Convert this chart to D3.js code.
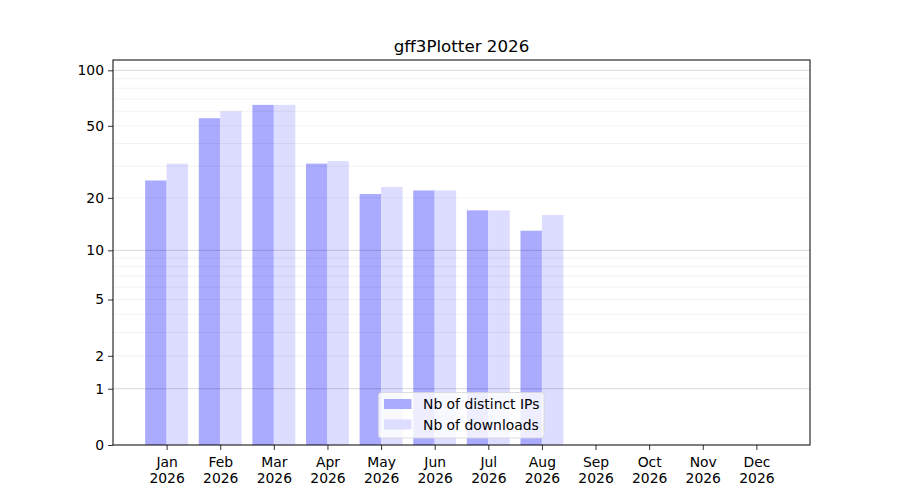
<!DOCTYPE html>
<html>
<head>
<meta charset="utf-8">
<script src="https://cdn.jsdelivr.net/npm/d3@7"></script>
<style>
  body { margin: 0; background: #fff; }
  text { font-family: "DejaVu Sans", sans-serif; }
</style>
</head>
<body>
<div id="graph"></div>
<script>
// data
let months = ["Jan", "Feb", "Mar", "Apr", "May", "Jun", "Jul", "Aug", "Sep", "Oct", "Nov", "Dec"];
let year = "2026";
let ips = [25, 55, 65, 31, 21, 22, 17, 13, 0, 0, 0, 0];
let downloads = [31, 60, 65, 32, 23, 22, 17, 16, 0, 0, 0, 0];
let yTicks = [0, 1, 2, 5, 10, 20, 50, 100];
let majorGrid = [1, 10, 100];
let minorGrid = [2, 3, 4, 5, 6, 7, 8, 9, 20, 30, 40, 50, 60, 70, 80, 90];
let seriesNames = ["Nb of distinct IPs", "Nb of downloads"];
let seriesColors = ["#aaaaff", "#ddddff"];

let width = 900, height = 500;
let margin = {top: 60, right: 90, bottom: 55, left: 113};
let plot_w = width - margin.left - margin.right;
let plot_h = height - margin.top - margin.bottom;

let svg = d3.select("#graph")
    .append("svg")
    .attr("width", width)
    .attr("height", height)
    .append("g")
    .attr("transform", `translate(${margin.left},${margin.top})`);

// x: month index, one empty slot on both sides
let x = d3.scaleLinear()
    .domain([-1, 12])
    .range([0, plot_w]);
let barW = x(0.4) - x(0);

// y: log of (value + 1), so that 0 sits on the bottom
let yLog = d3.scaleLog()
    .domain([1, 114.7])
    .range([plot_h, 0]);
let y = v => yLog(v + 1);

// bars
svg.append("g").selectAll("rect")
    .data(ips)
    .enter()
    .append("rect")
    .attr("x", (d, i) => x(i) - barW)
    .attr("y", d => y(d))
    .attr("width", barW)
    .attr("height", d => plot_h - y(d))
    .attr("fill", seriesColors[0]);

svg.append("g").selectAll("rect")
    .data(downloads)
    .enter()
    .append("rect")
    .attr("x", (d, i) => x(i))
    .attr("y", d => y(d))
    .attr("width", barW)
    .attr("height", d => plot_h - y(d))
    .attr("fill", seriesColors[1]);

// grid on top of bars
svg.append("g").selectAll("line")
    .data(minorGrid)
    .enter()
    .append("line")
    .attr("x1", 0).attr("x2", plot_w)
    .attr("y1", d => y(d)).attr("y2", d => y(d))
    .attr("stroke", "rgba(0,0,0,0.07)")
    .attr("stroke-width", 0.8);

svg.append("g").selectAll("line")
    .data(majorGrid)
    .enter()
    .append("line")
    .attr("x1", 0).attr("x2", plot_w)
    .attr("y1", d => y(d)).attr("y2", d => y(d))
    .attr("stroke", "rgba(0,0,0,0.2)")
    .attr("stroke-width", 0.8);

// y axis
let yAxis = svg.append("g")
    .call(d3.axisLeft(yLog)
        .tickValues(yTicks.map(d => d + 1))
        .tickFormat(d => String(Math.round(d - 1)))
        .tickSize(5)
        .tickPadding(4));
yAxis.select(".domain").remove();
yAxis.selectAll("text").style("font-size", "13.9px").attr("fill", "#000");
yAxis.selectAll("line").attr("stroke", "#000").attr("stroke-width", 0.8);

// x axis
let xAxis = svg.append("g")
    .attr("transform", `translate(0,${plot_h})`)
    .call(d3.axisBottom(x)
        .tickValues(d3.range(months.length))
        .tickFormat("")
        .tickSize(5));
xAxis.select(".domain").remove();
xAxis.selectAll("line").attr("stroke", "#000").attr("stroke-width", 0.8);
let xLab = xAxis.selectAll(".tick").append("text")
    .attr("text-anchor", "middle")
    .attr("fill", "#000")
    .style("font-size", "13.9px");
xLab.append("tspan").attr("x", 0).attr("y", 22).text((d, i) => months[i]);
xLab.append("tspan").attr("x", 0).attr("y", 38).text(year);

// frame
svg.append("rect")
    .attr("width", plot_w)
    .attr("height", plot_h)
    .attr("fill", "none")
    .attr("stroke", "#000")
    .attr("stroke-width", 1);

// title
svg.append("text")
    .attr("transform", `translate(${plot_w / 2},${-8})`)
    .style("text-anchor", "middle")
    .style("font-size", "16.7px")
    .text("gff3Plotter 2026");

// legend
let lg = svg.append("g")
    .attr("transform", `translate(${378.5 - margin.left},${392.5 - margin.top})`);
lg.append("rect")
    .attr("width", 165.5)
    .attr("height", 45.5)
    .attr("rx", 3)
    .attr("fill", "rgba(255,255,255,0.8)")
    .attr("stroke", "#d6d6d6")
    .attr("stroke-width", 0.8);
seriesNames.forEach(function(name, i) {
    lg.append("rect")
        .attr("x", 5.5)
        .attr("y", 6.5 + i * 20.5)
        .attr("width", 27.5)
        .attr("height", 10)
        .attr("fill", seriesColors[i]);
    lg.append("text")
        .attr("x", 44.5)
        .attr("y", 16.5 + i * 20.5)
        .style("font-size", "13.9px")
        .text(name);
});
</script>
</body>
</html>
